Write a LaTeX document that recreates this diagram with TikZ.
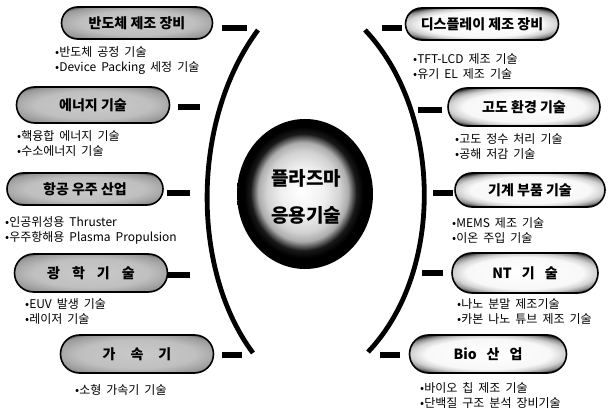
\documentclass[tikz,border=0pt]{standalone}
\usepackage{fontspec}
\setmainfont{Noto Sans CJK KR}
\usetikzlibrary{shapes.misc,shapes.geometric}
% TikZ maps a path's bounding box onto roughly the central 50bp square
\pgfdeclareradialshading{shadeL}{\pgfpoint{0bp}{0bp}}{color(0bp)=(gray!42); color(19bp)=(gray!50); color(24bp)=(gray!65); color(29bp)=(gray!82); color(34bp)=(black!90); color(50bp)=(black)}
\pgfdeclareradialshading{shadeR}{\pgfpoint{0bp}{0bp}}{color(0bp)=(white); color(20bp)=(gray!6); color(24.5bp)=(gray!35); color(28bp)=(gray!85); color(32bp)=(black); color(50bp)=(black)}
\pgfdeclareradialshading{shadeBall}{\pgfpoint{-1bp}{1bp}}{color(0bp)=(white); color(8bp)=(gray!12); color(13.5bp)=(gray!35); color(16.5bp)=(gray!65); color(19.5bp)=(black!90); color(22bp)=(black); color(50bp)=(black)}
\newcommand{\subfont}{\fontsize{12}{15}\selectfont\spaceskip=5pt plus 1pt\relax}
\tikzset{
  boxbase/.style={rounded rectangle, draw=black, line width=1.6pt, inner sep=0pt,
    font=\fontsize{14}{16}\selectfont\bfseries},
  lbox/.style={boxbase, shading=shadeL},
  rbox/.style={boxbase, shading=shadeR},
  bar/.style={rectangle, fill=black, inner sep=0pt, minimum height=5.5pt},
  sub/.style={anchor=west, align=left, inner sep=0pt, font=\subfont},
  bigarc/.style={line width=4.8pt}
}
\newcommand{\bul}{•}
\begin{document}
\begin{tikzpicture}[x=1pt,y=-1pt]
\useasboundingbox (0,0) rectangle (611,417);

% centre
\node[ellipse, shading=shadeBall, minimum width=136pt, minimum height=150pt, inner sep=0pt] (ball) at (305,194) {};
\node[align=center, font=\fontsize{19}{37}\selectfont\bfseries] (ctext) at (306,197) {플라즈마\\응용기술};

% arcs
\coordinate (la1) at (258,30);
\coordinate (la2) at (253,353);
\coordinate (ra1) at (365,30);
\coordinate (ra2) at (368,352);
\draw[bigarc] (la1) .. controls (191,120) and (191,270) .. (la2);
\draw[bigarc] (ra1) .. controls (441,110) and (446,270) .. (ra2);

% left boxes
\node[lbox, minimum width=151pt, minimum height=32pt] (L1) at (137,23) {반도체 제조 장비};
\node[lbox, minimum width=153pt, minimum height=36pt] (L2) at (93,105) {에너지 기술};
\node[lbox, minimum width=156pt, minimum height=32pt] (L3) at (85,189) {항공 우주 산업};
\node[lbox, minimum width=153pt, minimum height=38pt] (L4) at (91,273) {광\hspace{12pt}학\hspace{12pt}기\hspace{12pt}술};
\node[lbox, minimum width=153pt, minimum height=38pt] (L5) at (137,354) {가\hspace{15pt}속\hspace{15pt}기};

\node[bar, minimum width=25pt] (dL1) at (234.5,28) {};
\node[bar, minimum width=22pt] (dL2) at (189,107) {};
\node[bar, minimum width=23pt] (dL3) at (178.5,193) {};
\node[bar, minimum width=23pt] (dL4) at (178.5,275) {};
\node[bar, minimum width=20pt] (dL5) at (232,355) {};

\node[sub] (sL1) at (55,61) {\bul 반도체 공정 기술\\\bul Device Packing 세정 기술};
\node[sub] (sL2) at (17,143) {\bul 핵융합 에너지 기술\\\bul 수소에너지 기술};
\node[sub] (sL3) at (5,230) {\bul 인공위성용 Thruster\\\bul 우주항해용 Plasma Propulsion};
\node[sub] (sL4) at (25,312) {\bul EUV 발생 기술\\\bul 레이저 기술};
\node[sub] (sL5) at (75,390) {\bul 소형 가속기 기술};

% right boxes
\node[rbox, minimum width=153pt, minimum height=32pt] (R1) at (482,24) {디스플레이 제조 장비};
\node[rbox, minimum width=152pt, minimum height=38pt] (R2) at (524,107) {고도 환경 기술};
\node[rbox, minimum width=150pt, minimum height=34pt] (R3) at (530,190) {기계 부품 기술};
\node[rbox, minimum width=146pt, minimum height=40pt] (R4) at (525,273) {NT\hspace{10pt}기\hspace{10pt}술};
\node[rbox, minimum width=157pt, minimum height=38pt] (R5) at (488,354) {Bio\hspace{10pt}산\hspace{10pt}업};

\node[bar, minimum width=20pt] (dR1) at (392,28) {};
\node[bar, minimum width=24pt] (dR2) at (430,110) {};
\node[bar, minimum width=20pt] (dR3) at (443,193) {};
\node[bar, minimum width=21pt] (dR4) at (432.5,273) {};
\node[bar, minimum width=20pt] (dR5) at (390,355) {};

\node[sub] (sR1) at (413,67) {\bul TFT-LCD 제조 기술\\\bul 유기 EL 제조 기술};
\node[sub] (sR2) at (455,147) {\bul 고도 정수 처리 기술\\\bul 공해 저감 기술};
\node[sub] (sR3) at (452,231) {\bul MEMS 제조 기술\\\bul 이온 주입 기술};
\node[sub] (sR4) at (457,312) {\bul 나노 분말 제조기술\\\bul 카본 나노 튜브 제조 기술};
\node[sub] (sR5) at (420,395) {\bul 바이오 칩 제조 기술\\\bul 단백질 구조 분석 장비기술};
\end{tikzpicture}
\end{document}
